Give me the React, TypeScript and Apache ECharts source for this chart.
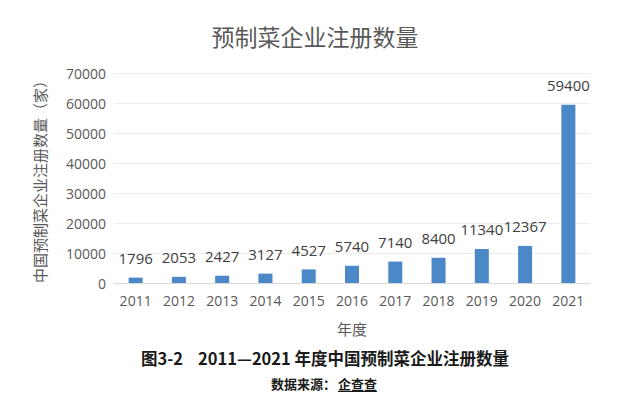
import React, { useEffect, useRef } from "react";
import * as echarts from "echarts";

const years = ["2011", "2012", "2013", "2014", "2015", "2016", "2017", "2018", "2019", "2020", "2021"];
const counts = [1796, 2053, 2427, 3127, 4527, 5740, 7140, 8400, 11340, 12367, 59400];
const yTicks = { min: 0, max: 70000, interval: 10000 };

const titleText = "预制菜企业注册数量";
const yName = "中国预制菜企业注册数量（家）";
const xName = "年度";
const caption = "图3-2    2011—2021 年度中国预制菜企业注册数量";
const sourceLabel = "数据来源：";
const sourceName = "企查查";

const FONT = "'Noto Sans CJK SC', 'Open Sans', sans-serif";
const NUMFONT = "'Open Sans', 'Noto Sans CJK SC', sans-serif";

export default function App() {
  const ref = useRef<HTMLDivElement>(null);
  useEffect(() => {
    if (!ref.current) return;
    const chart = echarts.init(ref.current, undefined, { renderer: "svg" });
    chart.setOption({
      animation: false,
      backgroundColor: "#ffffff",
      title: {
        text: titleText,
        left: 310,
        textAlign: "center",
        top: 19,
        textStyle: { fontFamily: FONT, fontSize: 23, fontWeight: "normal", color: "#595959" },
      },
      grid: { left: 114, right: 50, top: 73, bottom: 122, containLabel: false },
      xAxis: {
        type: "category",
        data: years,
        name: xName,
        nameLocation: "middle",
        nameGap: 38,
        nameTextStyle: { fontFamily: FONT, fontSize: 15, color: "#595959" },
        axisLine: { lineStyle: { color: "#d9d9d9" } },
        axisTick: { show: false },
        axisLabel: { fontFamily: NUMFONT, fontSize: 14, color: "#595959", margin: 10 },
      },
      yAxis: {
        type: "value",
        min: yTicks.min,
        max: yTicks.max,
        interval: yTicks.interval,
        name: yName,
        nameLocation: "middle",
        nameRotate: 90,
        nameGap: 67,
        nameTextStyle: { fontFamily: FONT, fontSize: 15, color: "#595959" },
        axisLine: { show: false },
        axisTick: { show: false },
        axisLabel: {
          fontFamily: NUMFONT,
          fontSize: 14,
          color: "#595959",
          margin: 8,
          formatter: (v: number) => String(v),
        },
        splitLine: { lineStyle: { color: "#ececec" } },
      },
      series: [
        {
          type: "bar",
          data: counts,
          barWidth: 14,
          itemStyle: { color: "#4a88c8" },
          label: {
            show: true,
            position: "top",
            distance: 12,
            fontFamily: NUMFONT,
            fontSize: 15,
            color: "#404040",
          },
        },
      ],
      graphic: [
        {
          type: "text",
          style: {
            text: caption,
            x: 325,
            y: 358,
            textAlign: "center",
            textVerticalAlign: "middle",
            font: `bold 16.5px ${FONT}`,
            fill: "#1a1a1a",
          },
        },
        {
          type: "text",
          style: {
            text: sourceLabel,
            x: 336,
            y: 383,
            textAlign: "right",
            textVerticalAlign: "middle",
            font: `bold 13px ${FONT}`,
            fill: "#1a1a1a",
          },
        },
        {
          type: "text",
          style: {
            text: sourceName,
            x: 338,
            y: 383,
            textAlign: "left",
            textVerticalAlign: "middle",
            font: `bold 13px ${FONT}`,
            fill: "#1a1a1a",
          },
        },
        {
          type: "line",
          shape: { x1: 338, y1: 391.5, x2: 377, y2: 391.5 },
          style: { stroke: "#1a1a1a", lineWidth: 1 },
        },
      ],
    });
    return () => chart.dispose();
  }, []);
  return <div ref={ref} style={{ position: "absolute", left: 0, top: 0, width: 640, height: 405 }} />;
}
